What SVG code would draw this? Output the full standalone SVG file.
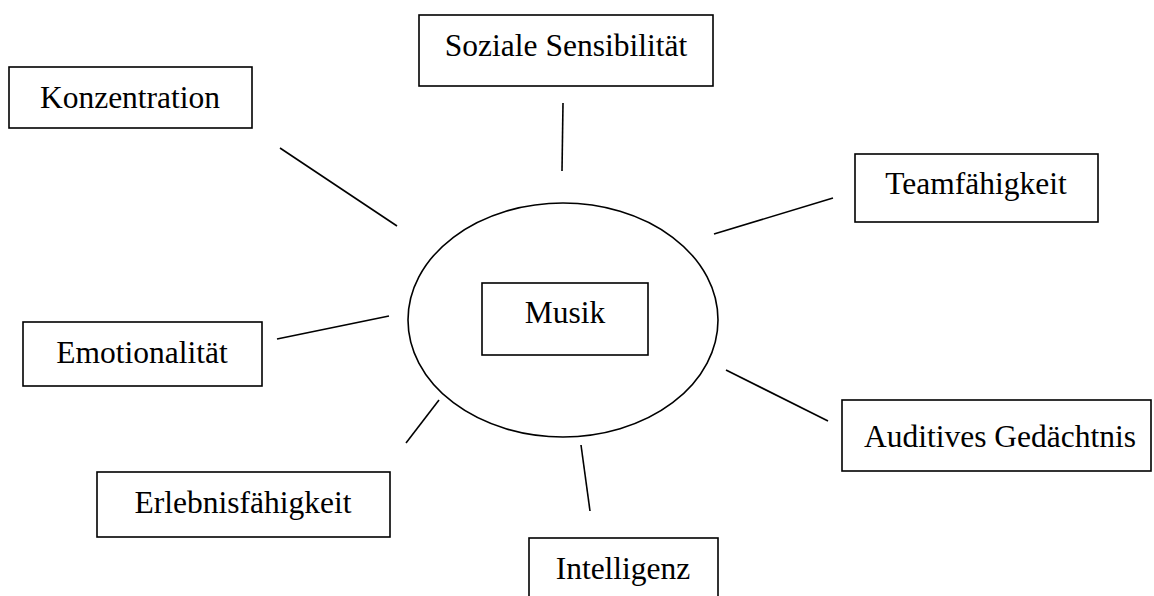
<svg xmlns="http://www.w3.org/2000/svg" width="1154" height="596" viewBox="0 0 1154 596">
<style>
.box{fill:#fff;stroke:#000;stroke-width:1.6}
.lbl{font-family:"Liberation Serif","Times New Roman",serif;font-size:31.5px;fill:#000;text-anchor:middle}
.con line{stroke:#000;stroke-width:1.6}
</style>
<rect width="1154" height="596" fill="#fff"/>
<g id="connectors" class="con">
<line x1="280" y1="148" x2="397" y2="226"/>
<line x1="563" y1="103" x2="562" y2="171"/>
<line x1="714" y1="234" x2="833" y2="198"/>
<line x1="277" y1="339" x2="389" y2="316"/>
<line x1="406" y1="443" x2="439" y2="400"/>
<line x1="581" y1="445" x2="590" y2="511"/>
<line x1="726" y1="370" x2="828" y2="421"/>
</g>
<g id="ellipse"><ellipse cx="563" cy="320" rx="155" ry="117" fill="none" stroke="#000" stroke-width="1.6"/></g>
<g id="musik"><rect class="box" x="482" y="283" width="166" height="72"/><text class="lbl" x="565" y="323">Musik</text></g>
<g id="konzentration"><rect class="box" x="9" y="67" width="243" height="61"/><text class="lbl" x="130" y="108">Konzentration</text></g>
<g id="soziale"><rect class="box" x="419" y="15" width="294" height="71"/><text class="lbl" x="566" y="56">Soziale Sensibilität</text></g>
<g id="team"><rect class="box" x="855" y="154" width="243" height="68"/><text class="lbl" x="976" y="194">Teamfähigkeit</text></g>
<g id="emotion"><rect class="box" x="23" y="322" width="239" height="64"/><text class="lbl" x="142" y="363">Emotionalität</text></g>
<g id="erlebnis"><rect class="box" x="97" y="472" width="293" height="65"/><text class="lbl" x="243" y="513">Erlebnisfähigkeit</text></g>
<g id="auditiv"><rect class="box" x="842" y="400" width="309" height="71"/><text class="lbl" x="1000" y="447">Auditives Gedächtnis</text></g>
<g id="intelligenz"><rect class="box" x="529" y="538" width="189" height="70"/><text class="lbl" x="623" y="579">Intelligenz</text></g>
</svg>
